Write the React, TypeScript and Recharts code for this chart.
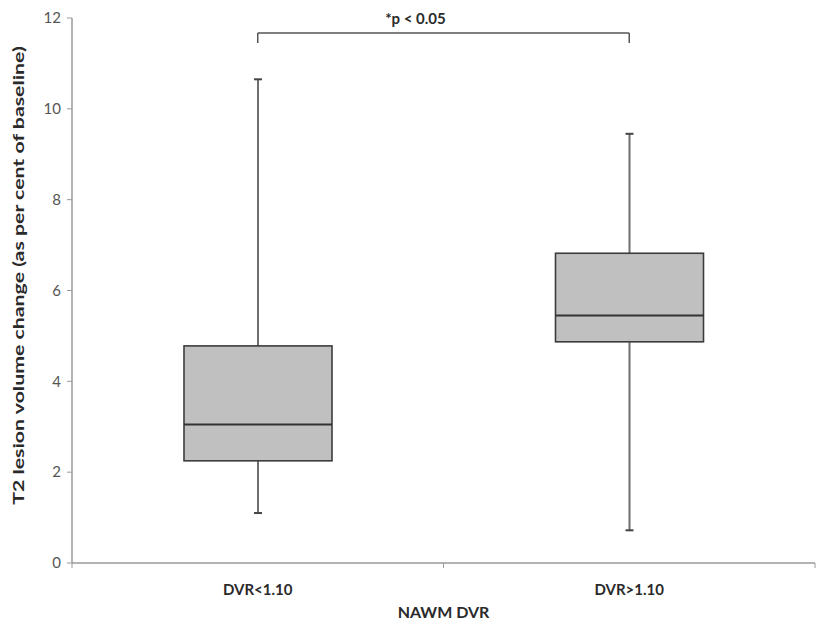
import React from 'react';
import { ComposedChart, Bar, XAxis, YAxis, ReferenceLine } from 'recharts';

const categories = ['DVR<1.10', 'DVR>1.10'];
const whiskerLow = [1.1, 0.72];
const quartile1 = [2.25, 4.87];
const medians = [3.05, 5.45];
const quartile3 = [4.78, 6.82];
const whiskerHigh = [10.65, 9.45];
const yTicks = [0, 2, 4, 6, 8, 10, 12];
const bracketTop = 11.67;
const bracketEnd = 11.45;
const significance = '*p < 0.05';
const yTitle = 'T2 lesion volume change (as per cent of baseline)';
const xTitle = 'NAWM DVR';

const data = categories.map((category, i) => ({
  category,
  min: whiskerLow[i],
  q1: quartile1[i],
  median: medians[i],
  q3: quartile3[i],
  max: whiskerHigh[i],
}));

const FONT = 'Lato, "Open Sans", sans-serif';
const AXIS = '#9a9a9a';

function BoxShape(props: any) {
  const { x, y, width, height, payload } = props;
  const top = Math.min(y, y + height);
  const bottom = Math.max(y, y + height);
  const { min, max, q1, median, q3 } = payload;
  const pix = (v: number) => bottom - ((v - min) / (max - min)) * (bottom - top);
  const cx = x + width / 2;
  const capHalf = 4;
  const whisker = '#6e6e6e';
  return (
    <g>
      <line x1={cx} x2={cx} y1={pix(max)} y2={pix(q3)} stroke={whisker} strokeWidth={2} />
      <line x1={cx} x2={cx} y1={pix(q1)} y2={pix(min)} stroke={whisker} strokeWidth={2} />
      <line x1={cx - capHalf} x2={cx + capHalf} y1={pix(max)} y2={pix(max)} stroke="#444" strokeWidth={2} />
      <line x1={cx - capHalf} x2={cx + capHalf} y1={pix(min)} y2={pix(min)} stroke="#444" strokeWidth={2} />
      <rect
        x={x}
        y={pix(q3)}
        width={width}
        height={pix(q1) - pix(q3)}
        fill="#c0c0c0"
        stroke="#3c3c3c"
        strokeWidth={1.6}
      />
      <line x1={x} x2={x + width} y1={pix(median)} y2={pix(median)} stroke="#333" strokeWidth={1.8} />
    </g>
  );
}

function CategoryTick(props: any) {
  const { x, y, payload, index } = props;
  const half = payload && payload.offset ? payload.offset : 0;
  return (
    <g>
      {index === 0 && half ? (
        <line x1={x - half} x2={x - half} y1={y} y2={y + 5} stroke={AXIS} strokeWidth={1} />
      ) : null}
      {half ? <line x1={x + half} x2={x + half} y1={y} y2={y + 5} stroke={AXIS} strokeWidth={1} /> : null}
      <text
        x={x}
        y={y + 32}
        textAnchor="middle"
        fill="#2a2a2a"
        fontSize={15}
        fontWeight={700}
        fontFamily={FONT}
      >
        {payload.value}
      </text>
    </g>
  );
}

function YTitle(props: any) {
  const vb = props.viewBox || {};
  const cx = 18;
  const cy = (vb.y || 0) + (vb.height || 0) / 2 - 15;
  return (
    <text
      transform={`translate(${cx}, ${cy}) rotate(-90) scale(1.42, 1)`}
      textAnchor="middle"
      dominantBaseline="central"
      fill="#2a2a2a"
      fontSize={15}
      fontWeight={700}
      fontFamily={FONT}
    >
      {yTitle}
    </text>
  );
}

export default function App() {
  return (
    <div style={{ position: 'absolute', left: 0, top: 0, background: '#fff' }}>
      <ComposedChart
        width={817}
        height={629}
        data={data}
        margin={{ top: 18, right: 2, bottom: 0, left: 0 }}
        barCategoryGap="10%"
      >
        <XAxis
          dataKey="category"
          type="category"
          height={66}
          axisLine={{ stroke: AXIS, strokeWidth: 1.5 }}
          tickLine={false}
          tickSize={0}
          tickMargin={0}
          tick={<CategoryTick />}
          label={{
            value: xTitle,
            position: 'insideBottom',
            offset: 11,
            fill: '#2a2a2a',
            fontSize: 16,
            fontWeight: 700,
            fontFamily: FONT,
          }}
        />
        <YAxis
          domain={[0, 12]}
          ticks={yTicks}
          width={72}
          axisLine={{ stroke: AXIS, strokeWidth: 1.5 }}
          tickLine={{ stroke: AXIS }}
          tickSize={5}
          tickMargin={6}
          tick={{ fill: '#555', fontSize: 15, fontFamily: FONT }}
          label={<YTitle />}
        />
        <Bar
          dataKey={(d: any) => [d.min, d.max]}
          barSize={148}
          shape={<BoxShape />}
          isAnimationActive={false}
        />
        <ReferenceLine
          segment={[
            { x: categories[0], y: bracketTop },
            { x: categories[1], y: bracketTop },
          ]}
          stroke="#555"
          strokeWidth={1.5}
          label={{
            value: significance,
            position: 'top',
            offset: 9,
            dx: -28,
            fill: '#2a2a2a',
            fontSize: 15,
            fontWeight: 700,
            fontFamily: FONT,
          }}
        />
        <ReferenceLine
          segment={[
            { x: categories[0], y: bracketEnd },
            { x: categories[0], y: bracketTop },
          ]}
          stroke="#555"
          strokeWidth={1.5}
        />
        <ReferenceLine
          segment={[
            { x: categories[1], y: bracketEnd },
            { x: categories[1], y: bracketTop },
          ]}
          stroke="#555"
          strokeWidth={1.5}
        />
      </ComposedChart>
    </div>
  );
}
